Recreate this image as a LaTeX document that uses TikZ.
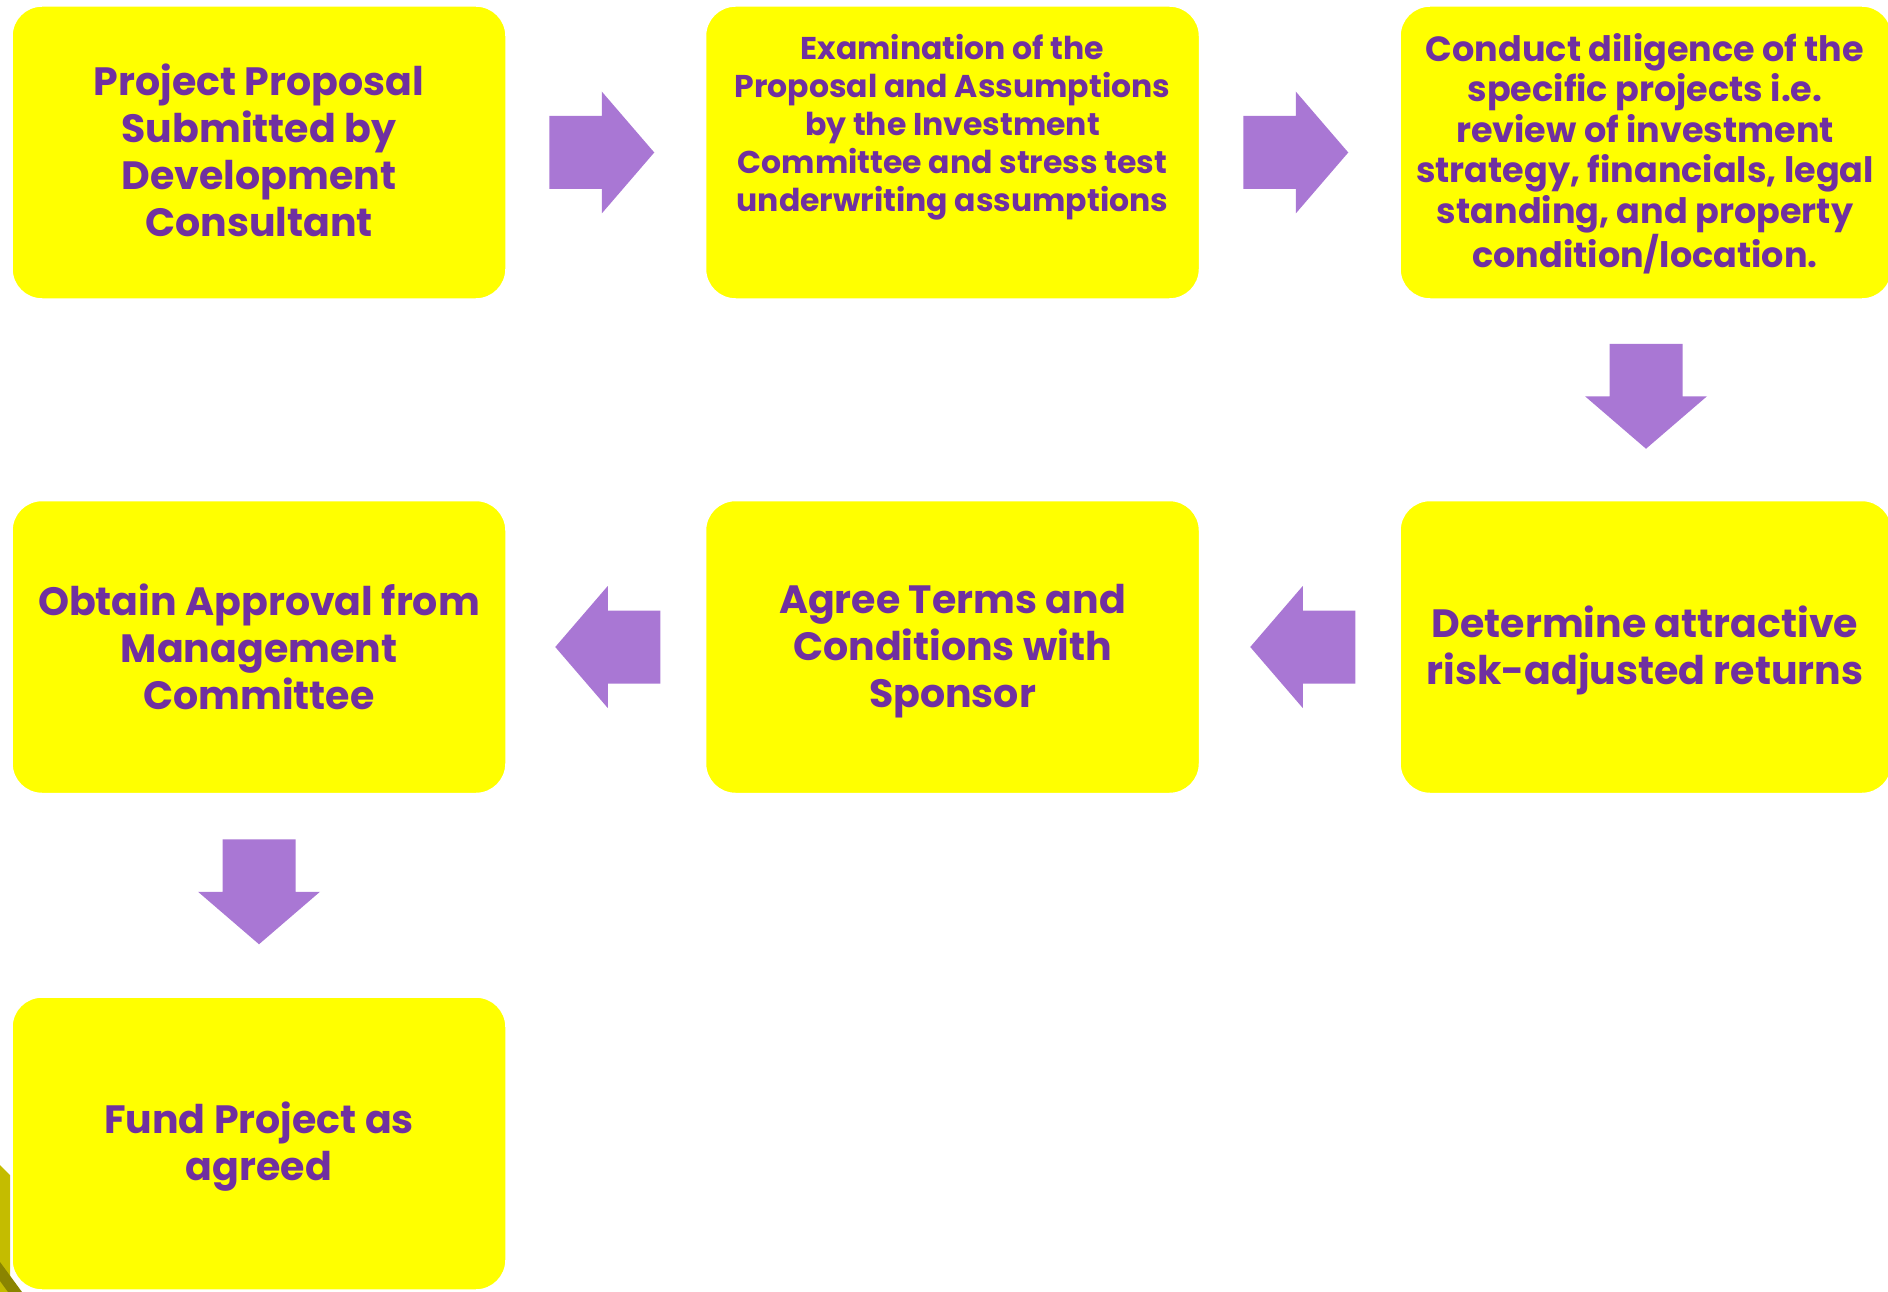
\documentclass[tikz,border=0pt]{standalone}
\usepackage{fontspec}
\setmainfont{Poppins}
\usetikzlibrary{calc}
\definecolor{boxyellow}{HTML}{FFFF00}
\definecolor{txtpurple}{HTML}{7030A0}
\definecolor{arrowlav}{HTML}{A977D4}
\definecolor{olive1}{HTML}{C4BC00}
\definecolor{olive2}{HTML}{8A8400}
\tikzset{
  stepbox/.style={rectangle, rounded corners=30pt, fill=boxyellow, draw=white, line width=1.5pt,
    minimum width=494pt, minimum height=293pt, inner sep=0pt},
  boxtext/.style={align=center, text=txtpurple, font=\bfseries},
  bigtext/.style={boxtext, font=\bfseries\fontsize{39.5}{47}\selectfont},
  pics/blockarrow/.style={code={
    \fill[arrowlav] (-52.5,-36.5) -- (0,-36.5) -- (0,-61) -- (52.5,0) -- (0,61) -- (0,36.5) -- (-52.5,36.5) -- cycle;}}
}
\begin{document}
\begin{tikzpicture}[x=1pt,y=-1pt]
\useasboundingbox (0,0) rectangle (1888,1292);
% decoration at lower left
\fill[olive1] (0,1165) -- (10,1175) -- (10,1292) -- (0,1292) -- cycle;
\fill[olive2] (0,1262) -- (22,1292) -- (8,1292) -- (0,1281) -- cycle;
% boxes
\node[stepbox] (b1) at (259,152.5) {};
\node[stepbox] (b2) at (952.5,152.5) {};
\node[stepbox, minimum width=492pt] (b3) at (1646,152.5) {};
\node[stepbox] (b4) at (259,647) {};
\node[stepbox] (b5) at (952.5,647) {};
\node[stepbox, minimum width=492pt] (b6) at (1646,647) {};
\node[stepbox] (b7) at (259,1143.5) {};
% texts
\node[bigtext] (t1) at ($(b1.center)+(0,-2)$) {Project Proposal\\Submitted by\\Development\\Consultant};
\node[boxtext, font=\bfseries\fontsize{31.5}{38}\selectfont] (t2) at ($(b2.center)+(0,-25)$) {Examination of the\\Proposal and Assumptions\\by the Investment\\Committee and stress test\\underwriting assumptions};
\node[boxtext, font=\bfseries\fontsize{35}{40.5}\selectfont] (t3) at ($(b3.center)+(-1,1)$) {Conduct diligence of the\\specific projects i.e.\\review of investment\\strategy, financials, legal\\standing, and property\\condition/location.};
\node[bigtext] (t4) at ($(b4.center)+(0,0)$) {Obtain Approval from\\Management\\Committee};
\node[bigtext] (t5) at ($(b5.center)+(0,4)$) {Agree Terms and\\Conditions with\\Sponsor};
\node[bigtext] (t6) at ($(b6.center)+(-1,3.5)$) {Determine attractive\\risk-adjusted returns};
\node[bigtext] (t7) at ($(b7.center)+(0,3)$) {Fund Project as\\agreed};
% connectors (block arrows)
\coordinate (a12) at ($(b1.east)!0.5!(b2.west)+(-4,0)$);
\coordinate (a23) at ($(b2.east)!0.5!(b3.west)+(-4,0)$);
\coordinate (a36) at ($(b3.south)!0.5!(b6.north)+(0,-3.5)$);
\coordinate (a65) at ($(b6.west)!0.5!(b5.east)+(3,0)$);
\coordinate (a54) at ($(b5.west)!0.5!(b4.east)+(2,0)$);
\coordinate (a47) at ($(b4.south)!0.5!(b7.north)+(0,-3.5)$);
\pic at (a12) {blockarrow};
\pic at (a23) {blockarrow};
\pic[rotate=-90] at (a36) {blockarrow};
\pic[rotate=180] at (a65) {blockarrow};
\pic[rotate=180] at (a54) {blockarrow};
\pic[rotate=-90] at (a47) {blockarrow};
\end{tikzpicture}
\end{document}
